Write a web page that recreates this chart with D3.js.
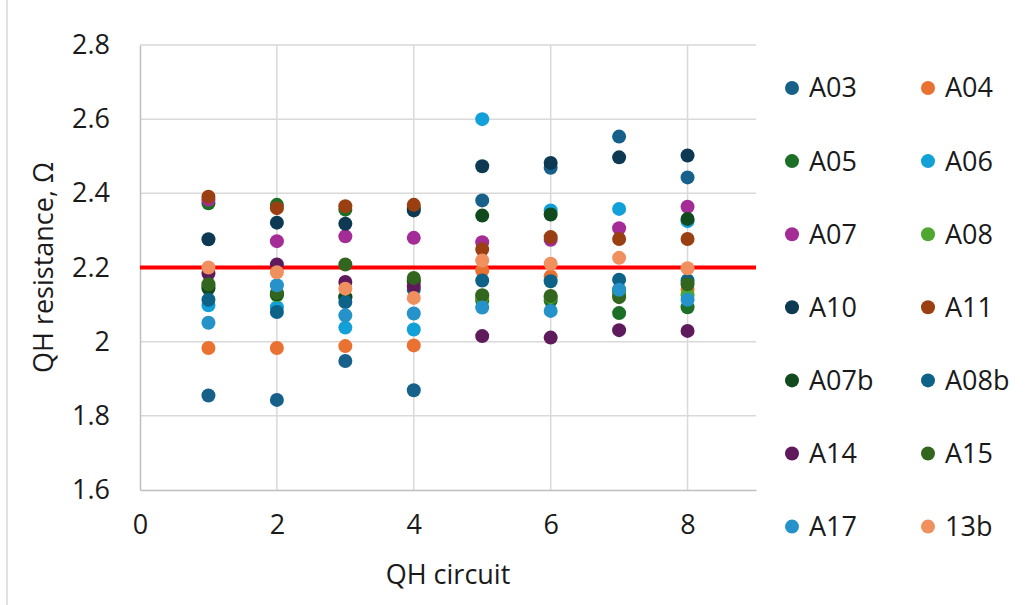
<!DOCTYPE html>
<html>
<head>
<meta charset="utf-8">
<script src="https://cdn.jsdelivr.net/npm/d3@7"></script>
<style>
  body { margin: 0; background: #fff; }
  svg { display: block; font-family: "Open Sans", "Liberation Sans", sans-serif; }
</style>
</head>
<body>
<svg id="chart" width="1036" height="605"></svg>
<script>
// QH resistance per circuit, one array per sample
const circuits = [1, 2, 3, 4, 5, 6, 7, 8];
const seriesNames = ["A03", "A04", "A05", "A06", "A07", "A08", "A10", "A11", "A07b", "A08b", "A14", "A15", "A17", "13b"];
const seriesColors = ["#17608a", "#e97132", "#1d6f28", "#12a0d8", "#a32c96", "#4ea72e", "#0d3a52", "#9a3f12", "#114a1c", "#0d6287", "#5f1a5b", "#32661f", "#2592c9", "#f0905f"];

const A03  = [1.855, 1.843, 1.948, 1.869, 2.381, 2.469, 2.553, 2.443];
const A04  = [1.983, 1.983, 1.988, 1.990, 2.192, 2.176, 2.130, 2.140];
const A05  = [2.373, 2.369, 2.356, 2.360, 2.111, 2.111, 2.077, 2.093];
const A06  = [2.098, 2.093, 2.038, 2.033, 2.600, 2.354, 2.358, 2.325];
const A07  = [2.383, 2.271, 2.284, 2.280, 2.268, 2.275, 2.306, 2.364];
const A08  = [2.150, 2.125, 2.120, 2.160, 2.120, 2.120, 2.128, 2.125];
const A10  = [2.276, 2.321, 2.318, 2.354, 2.473, 2.482, 2.497, 2.502];
const A11  = [2.391, 2.360, 2.365, 2.369, 2.249, 2.282, 2.277, 2.277];
const A07b = [2.144, 2.128, 2.120, 2.165, 2.340, 2.343, 2.140, 2.331];
const A08b = [2.113, 2.080, 2.107, 2.140, 2.165, 2.163, 2.167, 2.165];
const A14  = [2.184, 2.208, 2.161, 2.149, 2.015, 2.011, 2.031, 2.029];
const A15  = [2.155, 2.131, 2.208, 2.172, 2.125, 2.123, 2.120, 2.155];
const A17  = [2.051, 2.152, 2.071, 2.076, 2.092, 2.083, 2.140, 2.113];
const B13  = [2.200, 2.187, 2.143, 2.118, 2.219, 2.210, 2.226, 2.198];

const seriesValues = [A03, A04, A05, A06, A07, A08, A10, A11, A07b, A08b, A14, A15, A17, B13];

const xTicks = [0, 2, 4, 6, 8];
const yTicks = [1.6, 1.8, 2.0, 2.2, 2.4, 2.6, 2.8];
const limit = 2.2;

const svg = d3.select("#chart");
const plot = { left: 140, right: 756, top: 45, bottom: 490 };
const fontSize = 27;
const textColor = "#1a1a1a";

const x = d3.scaleLinear().domain([0, 9]).range([plot.left, plot.right]);
const y = d3.scaleLinear().domain([1.6, 2.8]).range([plot.bottom, plot.top]);

// chart border (only left edge visible in the crop)
svg.append("line")
  .attr("x1", 7).attr("x2", 7)
  .attr("y1", 0).attr("y2", 605)
  .attr("stroke", "#d9d9d9")
  .attr("stroke-width", 1.5);

// gridlines
svg.append("g")
  .selectAll("line")
  .data(yTicks.slice(1))
  .join("line")
  .attr("x1", plot.left).attr("x2", plot.right)
  .attr("y1", d => y(d)).attr("y2", d => y(d))
  .attr("stroke", "#d9d9d9")
  .attr("stroke-width", 1.5);

svg.append("g")
  .selectAll("line")
  .data(xTicks.slice(1))
  .join("line")
  .attr("x1", d => x(d)).attr("x2", d => x(d))
  .attr("y1", plot.top).attr("y2", plot.bottom)
  .attr("stroke", "#d9d9d9")
  .attr("stroke-width", 1.5);

// axes
const yAxis = d3.axisLeft(y).tickValues(yTicks).tickSize(0).tickPadding(30)
  .tickFormat(d => d === 2 ? "2" : d3.format(".1f")(d));
const yg = svg.append("g")
  .attr("transform", `translate(${plot.left},0)`)
  .call(yAxis);
yg.select(".domain").attr("stroke", "#bfbfbf").attr("stroke-width", 1.5);
yg.selectAll("text").attr("font-size", fontSize).attr("fill", textColor)
  .attr("font-family", "Open Sans, sans-serif");

const xAxis = d3.axisBottom(x).tickValues(xTicks).tickSize(0).tickPadding(25)
  .tickFormat(d3.format("d"));
const xg = svg.append("g")
  .attr("transform", `translate(0,${plot.bottom})`)
  .call(xAxis);
xg.select(".domain").attr("stroke", "#bfbfbf").attr("stroke-width", 1.5);
xg.selectAll("text").attr("font-size", fontSize).attr("fill", textColor)
  .attr("font-family", "Open Sans, sans-serif");

// axis titles
svg.append("text")
  .attr("x", (x(0) + x(9)) / 2)
  .attr("y", 584)
  .attr("text-anchor", "middle")
  .attr("font-size", fontSize)
  .attr("fill", textColor)
  .text("QH circuit");

svg.append("text")
  .attr("transform", `translate(53,${(plot.top + plot.bottom) / 2}) rotate(-90)`)
  .attr("text-anchor", "middle")
  .attr("font-size", fontSize)
  .attr("fill", textColor)
  .text("QH resistance, Ω");

// reference limit
svg.append("line")
  .attr("x1", plot.left).attr("x2", plot.right)
  .attr("y1", y(limit)).attr("y2", y(limit))
  .attr("stroke", "#ff0000")
  .attr("stroke-width", 4);

// points
const points = svg.append("g");
seriesValues.forEach((vals, i) => {
  points.append("g")
    .selectAll("circle")
    .data(vals)
    .join("circle")
    .attr("cx", (d, j) => x(circuits[j]))
    .attr("cy", d => y(d))
    .attr("r", 7)
    .attr("fill", seriesColors[i]);
});

// legend, two columns
const legend = svg.append("g");
const item = legend.selectAll("g")
  .data(seriesNames)
  .join("g")
  .attr("transform", (d, i) => `translate(${i % 2 === 0 ? 792 : 928},${88 + Math.floor(i / 2) * 73.1})`);

item.append("circle")
  .attr("r", 7)
  .attr("fill", (d, i) => seriesColors[i]);

item.append("text")
  .attr("x", 17)
  .attr("dy", "0.35em")
  .attr("font-size", fontSize)
  .attr("fill", textColor)
  .text(d => d);
</script>
</body>
</html>
